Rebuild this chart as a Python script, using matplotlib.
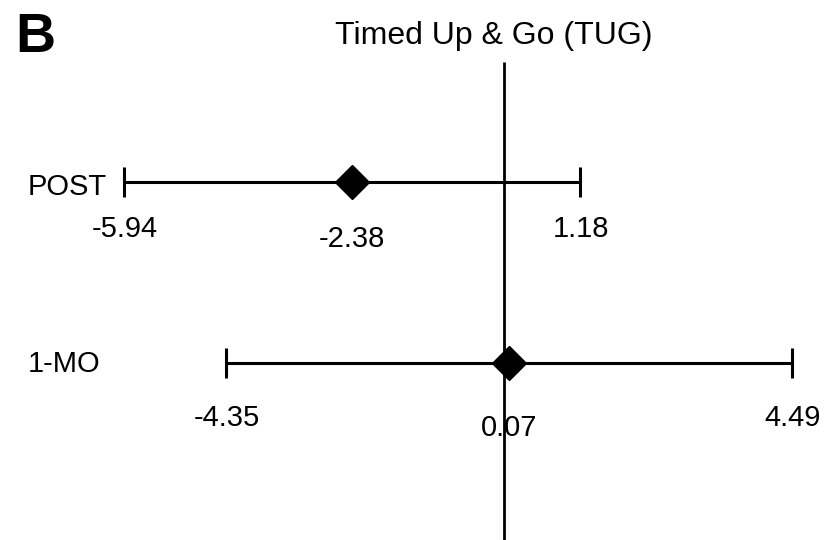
"""
Forest-style plot: Timed Up & Go (TUG) change with confidence intervals.
"""

import matplotlib
matplotlib.use("Agg")
import matplotlib.pyplot as plt

plt.rcParams["font.family"] = ["Liberation Sans", "DejaVu Sans"]

# Data
labels = ["POST", "1-MO"]
means = [-2.38, 0.07]
lower = [-5.94, -4.35]
upper = [1.18, 4.49]
ypos = [1, 0]

# label baselines below each bar, in pixels (ends, mean)
end_drop = [55, 63]
mid_drop = [65, 73]
name_drop = [13, 9]

fig = plt.figure(figsize=(8.27, 5.40), dpi=100)
ax = fig.add_axes([0, 0, 1, 1])
ax.set_xlim(-7.876, 5.04)
ax.set_ylim(-0.978, 2.006)
ax.axis("off")

# zero line
ax.plot([0, 0], [-1.0, 1.663], color="black", lw=2.0, solid_capstyle="butt")

xerr = [[m - lo for m, lo in zip(means, lower)], [hi - m for m, hi in zip(means, upper)]]
ax.errorbar(means, ypos, xerr=xerr, fmt="D", color="black", ms=17,
            elinewidth=2.2, capsize=11, capthick=2.2, zorder=3)

# row labels and numbers
for i, (y, lab, m, lo, hi) in enumerate(zip(ypos, labels, means, lower, upper)):
    ax.annotate(lab, (-7.876, y), xytext=(28, -name_drop[i]), textcoords="offset pixels",
                ha="left", va="baseline", fontsize=21)
    ax.annotate(f"{lo:.2f}", (lo, y), xytext=(1, -end_drop[i]), textcoords="offset pixels",
                ha="center", va="baseline", fontsize=21)
    ax.annotate(f"{hi:.2f}", (hi, y), xytext=(1, -end_drop[i]), textcoords="offset pixels",
                ha="center", va="baseline", fontsize=21)
    ax.annotate(f"{m:.2f}", (m, y), xytext=(0, -mid_drop[i]), textcoords="offset pixels",
                ha="center", va="baseline", fontsize=21)

fig.text(0.597, 1 - 44 / 540, "Timed Up & Go (TUG)", ha="center", va="baseline", fontsize=23)
fig.text(15 / 827, 1 - 52 / 540, "B", ha="left", va="baseline", fontsize=40, fontweight="bold")

plt.savefig("out.png", dpi=100)
